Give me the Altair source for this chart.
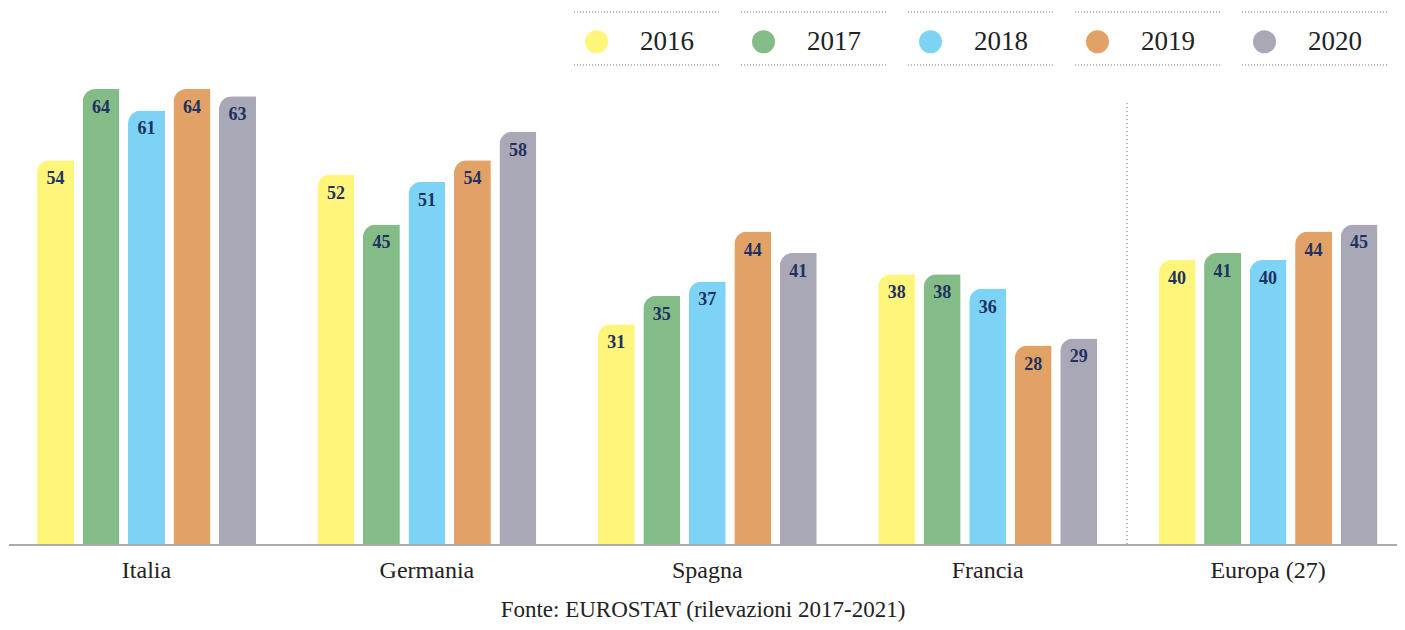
import altair as alt
import pandas as pd

countries = ["Italia", "Germania", "Spagna", "Francia", "Europa (27)"]
years = ["2016", "2017", "2018", "2019", "2020"]
v2016 = [54, 52, 31, 38, 40]
v2017 = [64, 45, 35, 38, 41]
v2018 = [61, 51, 37, 36, 40]
v2019 = [64, 54, 44, 28, 44]
v2020 = [63, 58, 41, 29, 45]
colors = ["#FFF57A", "#84BC88", "#7DD3F5", "#E2A266", "#A9A8B6"]
source = "Fonte: EUROSTAT (rilevazioni 2017-2021)"

series = [v2016, v2017, v2018, v2019, v2020]
rows = []
for y, vals in zip(years, series):
    for c, v in zip(countries, vals):
        rows.append({"paese": c, "anno": y, "valore": v})
df = pd.DataFrame(rows)

SERIF = "Liberation Serif"
W, H = 1388, 463

base = alt.Chart(df).encode(
    x=alt.X("paese:N", sort=countries,
            scale=alt.Scale(range=[-2.7, 1399.3], paddingInner=0, paddingOuter=0),
            axis=alt.Axis(title=None, labelAngle=0, ticks=False, domain=False,
                          labelFont=SERIF, labelFontSize=24,
                          labelColor="#222222", labelPadding=13)),
    xOffset=alt.XOffset("anno:N", sort=years,
                        scale=alt.Scale(paddingInner=0.187, paddingOuter=0.675)),
    y=alt.Y("valore:Q", scale=alt.Scale(domain=[0, 65], nice=False, zero=True), axis=None),
)

bars = base.mark_bar(cornerRadiusTopLeft=13).encode(
    color=alt.Color("anno:N", sort=years,
                    scale=alt.Scale(domain=years, range=colors),
                    legend=alt.Legend(title=None, orient="none", legendX=574, legendY=-54,
                                      direction="horizontal", columns=5, symbolType="circle",
                                      symbolSize=529, symbolStrokeWidth=0, symbolOpacity=1,
                                      labelFont=SERIF, labelFontSize=27, labelColor="#222222",
                                      labelOffset=30, columnPadding=56, padding=0))
)

labels = base.mark_text(baseline="alphabetic", dy=24, font=SERIF, fontSize=18,
                        fontWeight="bold", color="#1F3160").encode(text="valore:Q")

one = pd.DataFrame({"k": [0]})
rules = []
seg_starts = [565, 732, 899, 1066, 1233]
for s in seg_starts:
    for yy in (-70, -17):
        rules.append(alt.Chart(one).mark_rule(color="#777777", strokeWidth=1.2,
                                              strokeDash=[1, 2]).encode(
            x=alt.value(s), x2=alt.value(s + 147), y=alt.value(yy)))
sep = alt.Chart(one).mark_rule(color="#888888", strokeWidth=1.2, strokeDash=[1, 3]).encode(
    x=alt.value(1118), y=alt.value(21), y2=alt.value(H))
baseline = alt.Chart(one).mark_rule(color="#aaaaaa", strokeWidth=2).encode(
    x=alt.value(0), x2=alt.value(W), y=alt.value(H))

chart = alt.layer(bars, labels, sep, baseline, *rules).properties(
    width=W, height=H,
    autosize=alt.AutoSizeParams(type="none"),
    padding={"left": 1, "right": 0, "top": 74, "bottom": 77},
    title=alt.TitleParams(source, orient="bottom", font=SERIF, fontSize=23,
                          fontWeight="normal", color="#222222", offset=17, anchor="middle"),
    background="white",
).configure_view(stroke=None)

chart.save("out.html", embed_options={"renderer": "svg", "actions": False})
